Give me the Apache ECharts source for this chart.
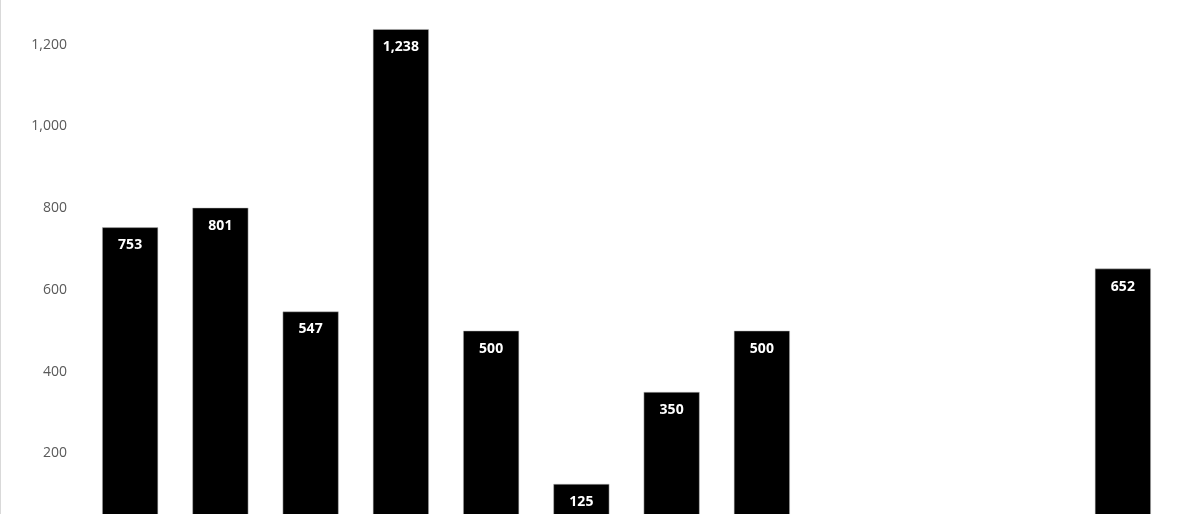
<!DOCTYPE html>
<html><head><meta charset="utf-8">
<script src="https://cdn.jsdelivr.net/npm/echarts@6/dist/echarts.min.js"></script>
<style>html,body{margin:0;padding:0;background:#fff;overflow:hidden;width:1200px;height:514px}
#wrap{position:relative;width:1200px;height:514px;overflow:hidden;box-sizing:border-box;border-left:1px solid #d9d9d9}
#c{position:absolute;left:0;top:-37px;width:1199px;height:609px}</style>
</head><body><div id="wrap"><div id="c"></div></div>
<script>
const categories = ['1','2','3','4','5','6','7','8','9','10','11','12'];
const values = [753, 801, 547, 1238, 500, 125, 350, 500, null, null, null, 652];
const yTicks = {min: 0, max: 1400, interval: 200};

const chart = echarts.init(document.getElementById('c'));
chart.setOption({
  animation: false,
  grid: {left: 84, right: 32, top: 0, bottom: 37, containLabel: false, outerBoundsMode: 'none'},
  xAxis: {type: 'category', data: categories, axisLine: {show: false}, axisTick: {show: false}, axisLabel: {show: false}},
  yAxis: {type: 'value', min: yTicks.min, max: yTicks.max, interval: yTicks.interval,
    splitLine: {show: false}, axisLine: {show: false}, axisTick: {show: false},
    axisLabel: {color: '#595959', fontSize: 14, fontFamily: 'Open Sans', margin: 18,
      formatter: v => v.toLocaleString('en-US')}},
  series: [{type: 'bar', data: values, barWidth: '62%',
    itemStyle: {color: '#000', borderColor: '#bfbfbf', borderWidth: 0.5},
    label: {show: true, position: 'insideTop', distance: 11, color: '#fff', fontWeight: 'bold',
      fontSize: 14, fontFamily: 'Open Sans', formatter: p => p.value.toLocaleString('en-US')}}]
});
</script></body></html>
